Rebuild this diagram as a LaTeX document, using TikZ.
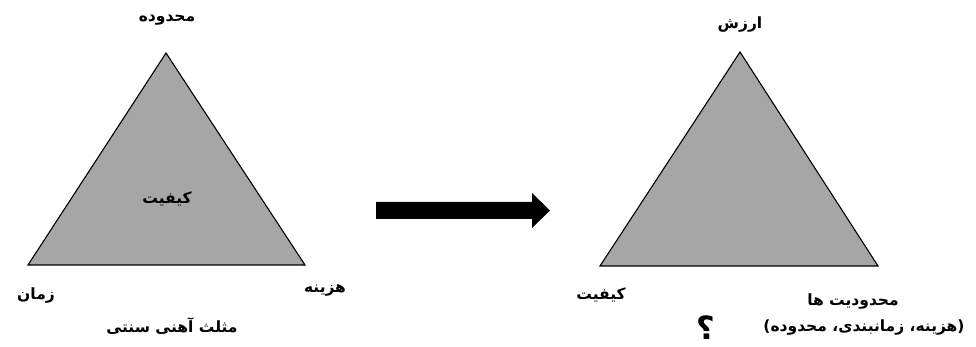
\documentclass[tikz,border=0pt]{standalone}
\usepackage{fontspec}
\TeXXeTstate=1
\newfontfamily\arabicfont[Script=Arabic]{DejaVu Sans}
\begin{document}
\begin{tikzpicture}[x=1pt,y=-1pt,
  tri/.style={draw=black,line width=1.1pt,fill=black!35,line join=miter},
  lbl/.style={font=\arabicfont\bfseries\fontsize{15.5}{18}\selectfont,inner sep=0pt},
  bigarrow/.style={fill=black,draw=none}]
\useasboundingbox (0,0) rectangle (976,347);
% left triangle
\coordinate (LA) at (166,53);
\coordinate (LB) at (28,265);
\coordinate (LC) at (305,265);
\path[tri] (LA) -- (LB) -- (LC) -- cycle;
% right triangle
\coordinate (RA) at (740,52);
\coordinate (RB) at (600,266);
\coordinate (RC) at (878,266);
\path[tri] (RA) -- (RB) -- (RC) -- cycle;
% arrow
\path[bigarrow] (376,202) -- (532,202) -- (532,193) -- (550,210.5) -- (532,228) -- (532,219) -- (376,219) -- cycle;
% labels
\node[lbl] (t1) at (167,20) {\beginR محدوده\endR};
\node[lbl] (q1) at (167,199) {\beginR کیفیت\endR};
\node[lbl] (z1) at (36,296) {\beginR زمان\endR};
\node[lbl] (h1) at (325,290) {\beginR هزینه\endR};
\node[lbl] (c1) at (172,326) {\beginR مثلث آهنی سنتی\endR};
\node[lbl] (t2) at (740,25) {\beginR ارزش\endR};
\node[lbl] (q2) at (601,295) {\beginR کیفیت\endR};
\node[lbl] (m2) at (853,302) {\beginR محدودیت ها\endR};
\node[lbl] (p2) at (864,328) {\beginR (هزینه، زمانبندی، محدوده)\endR};
\node[inner sep=0pt,font=\arabicfont\bfseries\fontsize{32}{34}\selectfont] (qm) at (706,328) {؟};
\end{tikzpicture}
\end{document}
